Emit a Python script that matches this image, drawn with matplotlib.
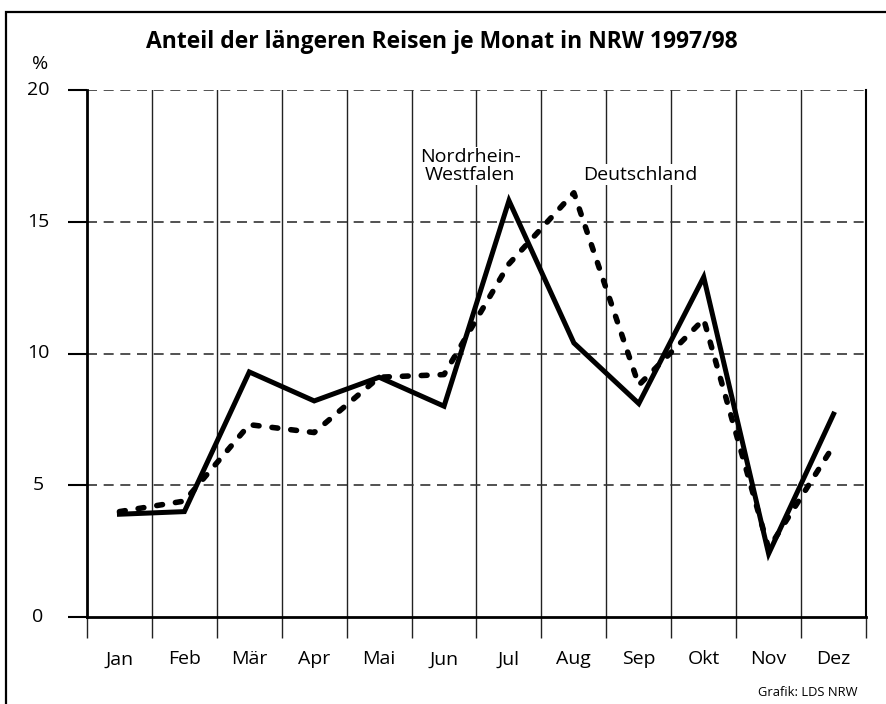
import matplotlib.pyplot as plt
from matplotlib.patches import Rectangle

plt.rcParams['font.family'] = ['Open Sans', 'DejaVu Sans']

months = ['Jan', 'Feb', 'Mär', 'Apr', 'Mai', 'Jun', 'Jul', 'Aug', 'Sep', 'Okt', 'Nov', 'Dez']
nrw = [3.9, 4.0, 9.3, 8.2, 9.1, 8.0, 15.8, 10.4, 8.1, 12.9, 2.4, 7.7]
deutschland = [4.0, 4.4, 7.3, 7.0, 9.1, 9.2, 13.4, 16.1, 8.8, 11.3, 2.6, 6.5]
y_ticks = [0, 5, 10, 15, 20]

fig = plt.figure(figsize=(8.86, 7.04), dpi=100)
ax = fig.add_axes([87/886, 87/704, 779/886, 527/704])

x = [i + 0.5 for i in range(len(months))]

# Grid: vertical lines at month boundaries, dashed horizontal lines
for i in range(1, 12):
    ax.axvline(i, color='#222222', lw=1.0, zorder=1)
for v in y_ticks[1:]:
    ax.axhline(v, color='#333333', lw=1.2, ls=(0, (6, 4)), zorder=1)

ax.plot(x, nrw, color='black', lw=3.6, solid_joinstyle='miter', zorder=3)
ax.plot(x, deutschland, color='black', lw=4.0, ls=(0, (1.05, 2.35)),
        dash_capstyle='round', zorder=3)

ax.set_xlim(0, 12)
ax.set_ylim(0, 20)
ax.set_xticks(range(13))
ax.set_xticklabels([])
ax.set_xticks(x, minor=True)
ax.set_xticklabels(months, minor=True)
ax.tick_params(axis='x', which='major', length=15, width=1.0, color='#222222')
ax.tick_params(axis='x', which='minor', length=0, pad=24, labelsize=14)

ax.set_yticks(y_ticks)
ax.set_yticklabels([])
ax.tick_params(axis='y', length=14, width=1.5)
for v in y_ticks:
    fig.text(38/886, 1 - (617 - v * 26.35) / 704, str(v), ha='center', va='center', fontsize=14)

ax.spines['top'].set_visible(False)
ax.spines['left'].set_linewidth(2)
ax.spines['bottom'].set_linewidth(2)
ax.spines['right'].set_linewidth(1.5)

box = dict(facecolor='white', edgecolor='none', pad=1)
ax.text(5.9, 16.45, 'Nordrhein-\nWestfalen', ha='center', va='bottom', fontsize=14,
        linespacing=0.95, bbox=box, zorder=2)
ax.text(8.52, 16.45, 'Deutschland', ha='center', va='bottom', fontsize=14, bbox=box, zorder=2)

fig.text(442/886, 1 - 42/704, 'Anteil der längeren Reisen je Monat in NRW 1997/98',
         ha='center', va='center', fontsize=16.5, fontweight='bold')
fig.text(40/886, 1 - 64/704, '%', ha='center', va='center', fontsize=14)
fig.text(858/886, 1 - 692/704, 'Grafik: LDS NRW', ha='right', va='center', fontsize=9.3)

fig.patches.append(Rectangle((6/886, -0.02), 1.0, 692/704 + 0.02, transform=fig.transFigure,
                             fill=False, edgecolor='black', lw=1.6))

fig.savefig('out.png', dpi=100)
